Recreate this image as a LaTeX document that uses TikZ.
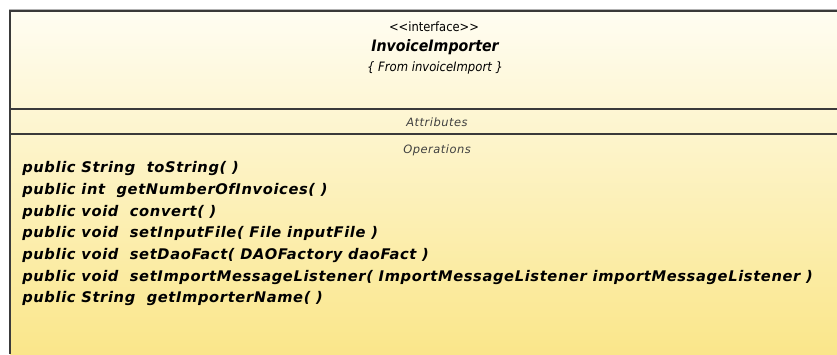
\documentclass[tikz,border=0pt]{standalone}
\usepackage{fontspec}
\setmainfont{DejaVu Sans}
\newfontfamily\umlfont[FakeStretch=0.9]{DejaVu Sans}
\newfontfamily\umlopfont[LetterSpace=4.3]{DejaVu Sans}
\usetikzlibrary{positioning}

\definecolor{classtop}{HTML}{FFFDF2}
\definecolor{classbot}{HTML}{FAE68A}
\definecolor{classline}{HTML}{3A3A3A}

\tikzset{
  stereo/.style={inner sep=0pt, anchor=base, font=\umlfont\fontsize{9.6}{11}\selectfont},
  cname/.style={inner sep=0pt, anchor=base, font=\umlfont\bfseries\itshape\fontsize{11.8}{14}\selectfont},
  pkg/.style={inner sep=0pt, anchor=base, font=\umlfont\itshape\fontsize{9.7}{11}\selectfont},
  part/.style={inner sep=0pt, anchor=base, font=\umlopfont\itshape\fontsize{8.6}{10}\selectfont, text=black!75},
  op/.style={inner sep=0pt, anchor=base west, font=\umlopfont\bfseries\itshape\fontsize{11}{13}\selectfont}
}

\begin{document}
\begin{tikzpicture}[x=0.75pt,y=-0.75pt]
\useasboundingbox (0,0) rectangle (837,354);
% class box, cut off at right and bottom
\shade[top color=classtop, bottom color=classbot] (10,11) rectangle (837,354);
\draw[black!30, line width=1pt] (9,9.5) -- (837,9.5);
\draw[classline, line width=1.5pt] (10,354) -- (10,11) -- (837,11);
\draw[classline, line width=1.2pt] (10,109) -- (837,109);
\draw[classline, line width=1.2pt] (10,134) -- (837,134);

% header
\node[stereo] (stereo) at (434,31) {<<interface>>};
\node[cname]  (cname)  at (435,51) {InvoiceImporter};
\node[pkg]    (pkg)    at (435,71) {\{ From invoiceImport \}};

% compartments
\node[part] (attrs) at (437,126) {Attributes};
\node[part] (opers) at (437,153) {Operations};

% operations
\foreach \txt [count=\i] in {
    {public String~ toString( )},
    {public int~ getNumberOfInvoices( )},
    {public void~ convert( )},
    {public void~ setInputFile( File inputFile )},
    {public void~ setDaoFact( DAOFactory daoFact )},
    {public void~ setImportMessageListener( ImportMessageListener importMessageListener )},
    {public String~ getImporterName( )}}
  \node[op] (op\i) at (22,{151+21.7*\i}) {\txt};

\end{tikzpicture}
\end{document}
